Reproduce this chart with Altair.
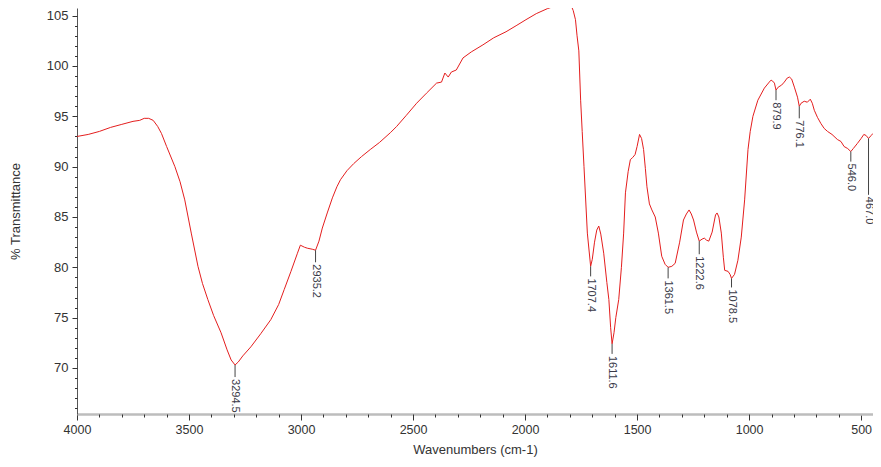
import altair as alt
import pandas as pd

# Spectrum trace (wavenumber cm-1, % transmittance)
wavenumbers = [4000, 3950, 3900, 3850, 3800, 3750, 3720, 3700, 3680, 3660, 3640, 3623, 3600, 3563, 3540,
               3519, 3490, 3460, 3440, 3416, 3390, 3357, 3330, 3312, 3294.5, 3280, 3260, 3224, 3180, 3135,
               3100, 3075, 3045, 3016, 3003, 2985, 2972, 2950, 2935.2, 2920, 2905, 2883, 2860, 2840, 2824,
               2795, 2765, 2730, 2691, 2650, 2600, 2573, 2530, 2484, 2440, 2395, 2373, 2358, 2343, 2329,
               2307, 2277, 2240, 2188, 2140, 2085, 2040, 1996, 1950, 1900, 1860, 1830, 1810, 1796, 1785,
               1775, 1768, 1760, 1752, 1745, 1737, 1722, 1707.4, 1700, 1690, 1680, 1671, 1662, 1649, 1635,
               1626, 1618, 1611.6, 1603, 1595, 1582, 1570, 1560, 1552, 1540, 1530, 1520, 1509, 1500, 1489,
               1480, 1471, 1463, 1456, 1445, 1434, 1419, 1405, 1390, 1375, 1361.5, 1345, 1330, 1310, 1293,
               1280, 1268, 1258, 1248, 1235, 1222.6, 1210, 1200, 1190, 1180, 1165, 1150, 1143, 1135, 1124,
               1115, 1109, 1094, 1085, 1078.5, 1065, 1050, 1035, 1020, 1005, 995, 983, 961, 932, 910,
               902, 895, 887, 879.9, 870, 855, 843, 830, 820, 810, 798, 784, 776.1, 768, 754,
               740, 727, 718, 709, 695, 680, 665, 650, 630, 606, 590, 576, 560, 546, 535,
               517, 500, 488, 478, 467, 455, 447]
transmittance = [93.0, 93.2, 93.5, 93.9, 94.2, 94.5, 94.6, 94.8, 94.8, 94.6, 94.0, 93.3, 92.0, 90.0, 88.5,
                 86.7, 83.4, 80.1, 78.4, 76.8, 75.2, 73.5, 71.8, 70.8, 70.3, 70.6, 71.2, 72.1, 73.4, 74.8,
                 76.3, 77.8, 79.6, 81.4, 82.2, 82.0, 81.9, 81.8, 81.7, 82.6, 83.9, 85.4, 86.9, 88.0, 88.7,
                 89.6, 90.3, 91.0, 91.7, 92.4, 93.4, 94.0, 95.1, 96.3, 97.3, 98.3, 98.4, 99.3, 98.9, 99.4,
                 99.6, 100.8, 101.4, 102.1, 102.8, 103.4, 104.0, 104.6, 105.2, 105.7, 106.0, 106.3, 106.2, 106.1, 105.5,
                 104.6, 103.0, 101.5, 96.6, 93.5, 90.0, 83.4, 80.1, 80.8, 82.5, 83.7, 84.1, 83.3, 81.4, 78.5,
                 76.8, 74.0, 72.4, 73.5, 75.0, 76.8, 80.0, 83.4, 87.4, 89.5, 90.7, 90.9, 91.2, 92.0, 93.2,
                 92.8, 91.7, 89.8, 88.0, 86.3, 85.7, 85.0, 83.4, 81.1, 80.3, 80.0, 80.1, 80.4, 82.5, 84.7,
                 85.3, 85.7, 85.3, 84.7, 83.5, 82.6, 82.8, 82.9, 82.7, 82.6, 83.5, 85.2, 85.4, 85.0, 83.4,
                 81.0, 79.7, 79.6, 79.3, 78.9, 79.3, 80.7, 83.0, 86.7, 91.7, 93.5, 95.0, 96.6, 97.8, 98.4,
                 98.6, 98.5, 98.3, 97.6, 97.9, 98.1, 98.4, 98.8, 98.9, 98.7, 97.9, 96.9, 96.0, 96.3, 96.5,
                 96.4, 96.7, 96.3, 95.6, 94.9, 94.3, 93.8, 93.5, 93.2, 92.7, 92.5, 92.0, 91.8, 91.5, 91.8,
                 92.3, 92.8, 93.2, 93.1, 92.8, 93.1, 93.3]

# Peak annotations
peak_labels = ["3294.5", "2935.2", "1707.4", "1611.6", "1361.5", "1222.6", "1078.5", "879.9", "776.1", "546.0", "467.0"]
peak_wn = [3294.5, 2935.2, 1707.4, 1611.6, 1361.5, 1222.6, 1078.5, 879.9, 776.1, 546.0, 467.0]
peak_t = [70.3, 81.7, 80.1, 72.4, 80.0, 82.6, 78.9, 97.6, 96.0, 91.5, 92.8]
peak_line_len = [1.2, 1.2, 1.0, 1.0, 1.1, 1.3, 0.9, 1.0, 1.2, 1.0, 5.6]

x_major = [4000, 3500, 3000, 2500, 2000, 1500, 1000, 500]
x_minor = list(range(600, 4000, 100))
y_major = [70, 75, 80, 85, 90, 95, 100, 105]
y_minor = list(range(66, 106))

FONT = "Liberation Sans"
TXT = "#333333"

spec = pd.DataFrame({"wn": wavenumbers, "t": transmittance})
peaks = pd.DataFrame({"wn": peak_wn, "t": peak_t, "label": peak_labels,
                      "t2": [a - b for a, b in zip(peak_t, peak_line_len)]})

x_scale = alt.Scale(domain=[4000, 447], nice=False, zero=False)
y_scale = alt.Scale(domain=[65.43, 105.76], nice=False, zero=False)

x_axis = alt.Axis(values=x_major, format="d", title="Wavenumbers (cm-1)", grid=False, orient="bottom",
                  tickSize=6, tickColor=TXT, domainColor="#bdbdbd", domainWidth=2.5,
                  labelFont=FONT, labelFontSize=12.5, labelColor=TXT, labelPadding=3,
                  titleFont=FONT, titleFontSize=13, titleFontWeight="normal", titleColor=TXT,
                  titlePadding=8, labelFlush=False, labelOverlap=False)
y_axis = alt.Axis(values=y_major, format="d", title="% Transmittance", grid=False, orient="left",
                  tickSize=5, tickColor=TXT, domainColor="#555555", domainWidth=1,
                  labelFont=FONT, labelFontSize=13, labelColor=TXT, labelPadding=4,
                  titleFont=FONT, titleFontSize=13, titleFontWeight="normal", titleColor=TXT,
                  titlePadding=24, labelFlush=False, labelOverlap=False)
x_axis_minor = alt.Axis(values=x_minor, labels=False, domain=False, grid=False, title=None,
                        orient="bottom", tickSize=3, tickColor=TXT)
y_axis_minor = alt.Axis(values=y_minor, labels=False, domain=False, grid=False, title=None,
                        orient="left", tickSize=2.5, tickColor=TXT)

line = alt.Chart(spec).mark_line(color="#e41e1e", strokeWidth=1, clip=True).encode(
    x=alt.X("wn:Q", scale=x_scale, axis=x_axis, sort=None),
    y=alt.Y("t:Q", scale=y_scale, axis=y_axis),
    order=alt.Order("wn:Q", sort="descending"),
)

rules = alt.Chart(peaks).mark_rule(color="#444444", strokeWidth=1).encode(
    x=alt.X("wn:Q", axis=x_axis_minor),
    y=alt.Y("t:Q", axis=y_axis_minor),
    y2="t2:Q",
)

texts = alt.Chart(peaks).mark_text(angle=90, align="left", baseline="middle", dx=2,
                                   font=FONT, fontSize=11, color="#3a3a48").encode(
    x=alt.X("wn:Q", axis=None), y=alt.Y("t2:Q", axis=None), text="label:N"
)

chart = alt.layer(line, rules, texts).resolve_axis(
    x="independent", y="independent"
).properties(
    width=796, height=406,
    autosize=alt.AutoSizeParams(type="none"),
    padding={"left": 69, "top": 0, "right": 0, "bottom": 44},
    background="white",
).configure_view(stroke=None)

chart.save("out.html", embed_options={"renderer": "svg", "actions": False})
